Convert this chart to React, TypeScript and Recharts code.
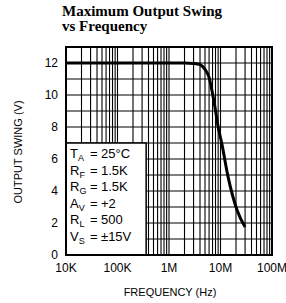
import React from 'react';
import { LineChart, Line, XAxis, YAxis, CartesianGrid, ReferenceArea } from 'recharts';

// flat at 12 V, rolls off above ~5 MHz
const frequency = [1e4, 1e5, 1e6, 2e6, 3e6, 4e6, 5e6, 6e6, 6.8e6, 7.8e6, 8.9e6, 10.7e6, 14e6, 21e6, 30e6];
const outputSwing = [12, 12, 12, 12, 11.97, 11.9, 11.6, 11.1, 10.3, 9.25, 8.1, 6.9, 4.9, 2.8, 1.75];

const decadeTicks = [1e4, 1e5, 1e6, 1e7, 1e8];
const decadeLabels = ['10K', '100K', '1M', '10M', '100M'];
const yTicks = [0, 1, 2, 3, 4, 5, 6, 7, 8, 9, 10, 11, 12, 13];

const conditions = [
  { name: 'T', sub: 'A', value: '25°C' },
  { name: 'R', sub: 'F', value: '1.5K' },
  { name: 'R', sub: 'G', value: '1.5K' },
  { name: 'A', sub: 'V', value: '+2' },
  { name: 'R', sub: 'L', value: '500' },
  { name: 'V', sub: 'S', value: '±15V' },
];

// every 1..9 multiple inside each decade, for the log grid
const xTicks: number[] = [];
for (let d = 1e4; d < 1e8; d *= 10) {
  for (let m = 1; m < 10; m++) xTicks.push(d * m);
}
xTicks.push(1e8);

const data = frequency.map((f, i) => ({ f, v: outputSwing[i] }));

const sans = '"Liberation Sans", Arial, sans-serif';

const formatX = (v: number) => {
  const i = decadeTicks.findIndex((d) => Math.abs(d - v) / d < 1e-6);
  return i >= 0 ? decadeLabels[i] : '';
};

const formatY = (v: number) => (v % 2 === 0 && v <= 12 ? String(v) : '');

const renderConditions = (props: any) => {
  const vb = props.viewBox || {};
  const x0 = vb.x + 4;
  const y0 = vb.y + 15;
  return (
    <g fontFamily={sans} fontSize={13} fill="#000">
      {conditions.map((c, i) => (
        <text key={i} y={y0 + i * 16.6}>
          <tspan x={x0}>{c.name}</tspan>
          <tspan fontSize={9} dy={3}>{c.sub}</tspan>
          <tspan x={x0 + 20} dy={-3}>=</tspan>
          <tspan x={x0 + 31}>{c.value}</tspan>
        </text>
      ))}
    </g>
  );
};

const App: React.FC = () => {
  return (
    <div style={{ position: 'absolute', left: 0, top: 0, width: 286, height: 303, background: '#fff' }}>
      <div
        style={{
          position: 'absolute',
          left: 62,
          top: 4,
          fontFamily: '"Liberation Serif", "Times New Roman", serif',
          fontWeight: 'bold',
          fontSize: 15,
          lineHeight: '15px',
          color: '#000',
        }}
      >
        Maximum Output Swing
        <br />
        vs Frequency
      </div>
      <LineChart width={286} height={303} data={data} margin={{ top: 47, right: 14, left: 36, bottom: 28 }}>
        <CartesianGrid stroke="#000" strokeWidth={1.1} />
        <XAxis
          dataKey="f"
          type="number"
          scale="log"
          domain={[1e4, 1e8]}
          ticks={xTicks}
          interval={0}
          tickFormatter={formatX}
          axisLine={false}
          tickLine={false}
          height={20}
          tick={{ fill: '#000', fontSize: 12, fontFamily: sans }}
          allowDataOverflow
        />
        <YAxis
          type="number"
          domain={[0, 13]}
          ticks={yTicks}
          interval={0}
          tickFormatter={formatY}
          axisLine={false}
          tickLine={false}
          width={30}
          tick={{ fill: '#000', fontSize: 12, fontFamily: sans }}
        />
        <ReferenceArea
          x1={1e4}
          x2={3.6e5}
          y1={0}
          y2={7}
          fill="#fff"
          fillOpacity={1}
          stroke="#000"
          strokeWidth={1.5}
          label={renderConditions}
        />
        <ReferenceArea x1={1e4} x2={1e8} y1={0} y2={13} fill="none" stroke="#000" strokeWidth={2} />
        <Line
          type="monotone"
          dataKey="v"
          stroke="#000"
          strokeWidth={3}
          dot={false}
          isAnimationActive={false}
        />
        <text x={170} y={296} textAnchor="middle" fontFamily={sans} fontSize={11} fill="#000">
          FREQUENCY (Hz)
        </text>
        <text
          x={22}
          y={152}
          textAnchor="middle"
          fontFamily={sans}
          fontSize={11}
          fill="#000"
          transform="rotate(-90 22 152)"
        >
          OUTPUT SWING (V)
        </text>
      </LineChart>
    </div>
  );
};

export default App;
